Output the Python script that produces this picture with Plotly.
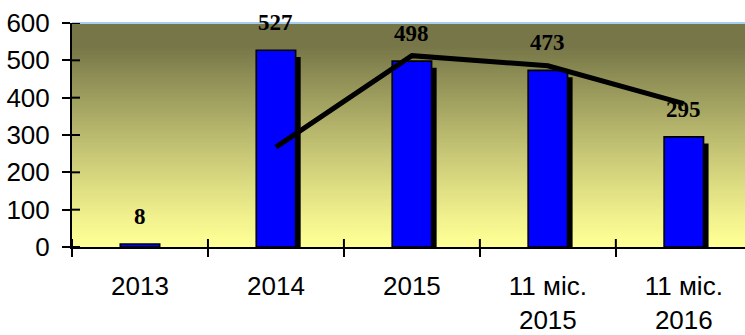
import plotly.graph_objects as go

# Categories and values
categories = ["2013", "2014", "2015", "11 міс.<br>2015", "11 міс.<br>2016"]
values = [8, 527, 498, 473, 295]

# Two-period moving-average trend line (from 2014 onward)
trend_categories = ["2014", "2015", "11 міс.<br>2015", "11 міс.<br>2016"]
trend_values = [267.5, 512.5, 485.5, 384]

y_ticks = [0, 100, 200, 300, 400, 500, 600]

BAR_W = 0.29
SHADOW_DX = 0.037     # shadow shift to the right (category units)
SHADOW_DY = 18        # shadow drop (value units)

fig = go.Figure()

# Drop shadow behind each bar
fig.add_trace(go.Bar(
    x=categories, y=values, base=-SHADOW_DY,
    width=BAR_W, offset=-BAR_W / 2 + SHADOW_DX,
    marker=dict(color="black", line=dict(width=0)),
    hoverinfo="skip", showlegend=False,
))

# Main bars
fig.add_trace(go.Bar(
    x=categories, y=values,
    width=BAR_W, offset=-BAR_W / 2,
    marker=dict(color="#0000ff", line=dict(color="black", width=1.6)),
    showlegend=False,
))

# Trend line
fig.add_trace(go.Scatter(
    x=trend_categories, y=trend_values, mode="lines",
    line=dict(color="black", width=5),
    showlegend=False,
))

# Value labels (positioned by category index)
annotations = []
for i, v in enumerate(values):
    annotations.append(dict(
        x=i, y=v, xref="x", yref="y", text=f"<b>{v}</b>",
        showarrow=False, yanchor="bottom", yshift=13,
        font=dict(family="Liberation Serif", size=23, color="black"),
    ))

# Vertical gradient background of the plot area
shapes = []
n_bands = 112
top = (118, 118, 72)
bottom = (255, 255, 150)
for i in range(n_bands):
    t = i / (n_bands - 1)          # 0 at bottom, 1 at top
    s = min(1.0, t / 0.9) ** 1.15
    r = round(bottom[0] + (top[0] - bottom[0]) * s)
    g = round(bottom[1] + (top[1] - bottom[1]) * s)
    b = round(bottom[2] + (top[2] - bottom[2]) * s)
    shapes.append(dict(
        type="rect", xref="x domain", yref="y domain",
        x0=0, x1=1, y0=i / n_bands, y1=(i + 1) / n_bands + 0.002,
        fillcolor=f"rgb({r},{g},{b})", line=dict(width=0), layer="below",
    ))

# Light blue top border
shapes.append(dict(
    type="line", xref="x domain", yref="y domain",
    x0=0, x1=1, y0=1, y1=1, line=dict(color="#a6cdf2", width=2), layer="above",
))

# Inner halves of the crossing tick marks
plot_h = 224
plot_w = 673
for i in range(5):
    shapes.append(dict(
        type="line", xref="x", yref="y domain",
        x0=-0.5 + i, x1=-0.5 + i, y0=0, y1=8 / plot_h,
        line=dict(color="black", width=2), layer="above",
    ))
for t in y_ticks:
    shapes.append(dict(
        type="line", xref="x domain", yref="y",
        x0=0, x1=8 / plot_w, y0=t, y1=t,
        line=dict(color="black", width=2), layer="above",
    ))

fig.update_layout(
    width=745, height=335,
    margin=dict(l=72, r=0, t=23, b=88),
    paper_bgcolor="white", plot_bgcolor="#ffff99",
    barmode="overlay",
    annotations=annotations,
    shapes=shapes,
    font=dict(family="Liberation Sans", size=26, color="black"),
)

fig.update_xaxes(
    type="category", categoryorder="array", categoryarray=categories,
    range=[-0.5, 4.45], automargin=False,
    showline=True, linecolor="black", linewidth=2,
    ticks="outside", tickson="boundaries", ticklen=8, tickwidth=2, tickcolor="black",
    showgrid=False, zeroline=False,
    ticklabelstandoff=15,
    tickfont=dict(family="Liberation Sans", size=26, color="black"),
)

fig.update_yaxes(
    range=[0, 600], tickvals=y_ticks, automargin=False,
    showline=True, linecolor="black", linewidth=2,
    ticks="outside", ticklen=8, tickwidth=2, tickcolor="black",
    showgrid=False, zeroline=False,
    ticklabelstandoff=7,
    tickfont=dict(family="Liberation Sans", size=26, color="black"),
)

fig.write_html("out.html")
